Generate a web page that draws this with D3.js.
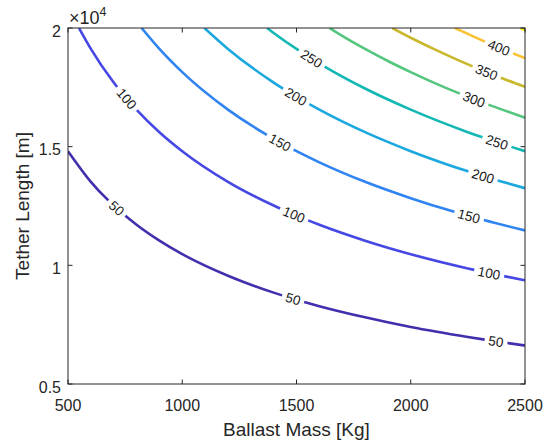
<!DOCTYPE html>
<html><head><meta charset="utf-8">
<script src="https://cdn.jsdelivr.net/npm/d3@7"></script>
<style>body{margin:0;background:#fff} svg{display:block}</style>
</head><body>
<script>
// ---- data (mass in kg, tether length in units of 1e4 m) ----
const levels = [50, 100, 150, 200, 250, 300, 350, 400, 450];
const lineColors = ["#4030ae", "#4648e4", "#2f84f2", "#1ba8df", "#13b8b4", "#55c67e", "#c9b82c", "#fbc234", "#f6f01c"];
const contour50  = [[500,1.481],[600,1.352],[700,1.252],[800,1.171],[900,1.104],[1000,1.047],[1200,0.956],[1400,0.885],[1600,0.828],[1800,0.781],[2000,0.740],[2250,0.698],[2500,0.662]];
const contour100 = [[548,2.000],[600,1.912],[700,1.770],[800,1.656],[900,1.561],[1000,1.481],[1200,1.352],[1400,1.252],[1600,1.171],[1800,1.104],[2000,1.047],[2250,0.987],[2500,0.937]];
const contour150 = [[822,2.000],[900,1.912],[1000,1.814],[1200,1.656],[1400,1.533],[1600,1.434],[1800,1.352],[2000,1.283],[2250,1.209],[2500,1.147]];
const contour200 = [[1097,2.000],[1200,1.912],[1400,1.770],[1600,1.656],[1800,1.561],[2000,1.481],[2250,1.396],[2500,1.325]];
const contour250 = [[1371,2.000],[1400,1.979],[1600,1.851],[1800,1.745],[2000,1.656],[2250,1.561],[2500,1.481]];
const contour300 = [[1645,2.000],[1700,1.967],[1800,1.912],[1900,1.861],[2000,1.814],[2100,1.770],[2250,1.710],[2400,1.656],[2500,1.622]];
const contour350 = [[1919,2.000],[2000,1.959],[2100,1.912],[2200,1.868],[2350,1.807],[2500,1.752]];
const contour400 = [[2193,2.000],[2250,1.975],[2300,1.953],[2400,1.912],[2500,1.873]];
const contour450 = [[2480,2.000],[2500,1.990]];
const contourLines = [contour50, contour100, contour150, contour200, contour250, contour300, contour350, contour400, contour450];
// mass positions of the inline labels of each level
const labelMasses = [[713,1485,2373],[757,1489,2343],[1428,2255],[1498,2316],[1566,2377],[2277],[2332],[2386],[]];
const xTicks = [500, 1000, 1500, 2000, 2500];
const yTicks = [0.5, 1, 1.5, 2];
const yTickLabels = ["0.5", "1", "1.5", "2"];

// ---- layout ----
const W = 556, H = 446;
const L0 = 68, R0 = 525, T0 = 28, B0 = 384;
const axisColor = "#262626";
const font = "'Liberation Sans', Arial, Helvetica, sans-serif";

const x = d3.scaleLinear().domain([500, 2500]).range([L0, R0]);
const y = d3.scaleLinear().domain([0.5, 2]).range([B0, T0]);

const svg = d3.select("body").append("svg").attr("width", W).attr("height", H)
  .style("font-family", font);

svg.append("rect").attr("x", L0).attr("y", T0).attr("width", R0 - L0).attr("height", B0 - T0).attr("fill", "#fff");
svg.append("clipPath").attr("id", "clip").append("rect")
  .attr("x", L0).attr("y", T0).attr("width", R0 - L0).attr("height", B0 - T0);

const gLines = svg.append("g").attr("clip-path", "url(#clip)");
const gLabels = svg.append("g");

const line = d3.line().x(d => x(d[0])).y(d => y(d[1])).curve(d3.curveMonotoneX);

levels.forEach((lv, i) => {
  const path = gLines.append("path").datum(contourLines[i])
    .attr("d", line).attr("fill", "none")
    .attr("stroke", lineColors[i]).attr("stroke-width", 2.6)
    .attr("stroke-linejoin", "round");
  const node = path.node();
  const total = node.getTotalLength();
  const gaps = [];
  labelMasses[i].forEach(m => {
    const px = x(m);
    let lo = 0, hi = total;
    for (let k = 0; k < 40; k++) {
      const mid = (lo + hi) / 2;
      if (node.getPointAtLength(mid).x < px) lo = mid; else hi = mid;
    }
    const s = (lo + hi) / 2;
    const p = node.getPointAtLength(s);
    const p1 = node.getPointAtLength(Math.max(0, s - 3));
    const p2 = node.getPointAtLength(Math.min(total, s + 3));
    let ang = Math.atan2(p2.y - p1.y, p2.x - p1.x) * 180 / Math.PI;
    if (ang > 90) ang -= 180;
    if (ang < -90) ang += 180;
    const t = gLabels.append("text")
      .attr("transform", `translate(${p.x},${p.y}) rotate(${ang})`)
      .attr("text-anchor", "middle").attr("dy", "0.36em")
      .attr("font-size", 13.5).attr("fill", "#1a1a1a")
      .text(lv);
    const w = t.node().getComputedTextLength();
    gaps.push([s - w / 2 - 4, s + w / 2 + 4]);
  });
  if (gaps.length) {
    const arr = [];
    let pos = 0;
    gaps.sort((a, b) => a[0] - b[0]).forEach(g => { arr.push(Math.max(0, g[0] - pos), g[1] - g[0]); pos = g[1]; });
    arr.push(Math.max(0, total - pos) + 50, 0);
    path.attr("stroke-dasharray", arr.join(","));
  }
});

// ---- axes box and ticks ----
const gAx = svg.append("g").attr("stroke", axisColor).attr("stroke-width", 1).attr("fill", "none");
gAx.append("rect").attr("x", L0).attr("y", T0).attr("width", R0 - L0).attr("height", B0 - T0);
const tl = 4.5;
xTicks.forEach(v => {
  gAx.append("line").attr("x1", x(v)).attr("x2", x(v)).attr("y1", B0).attr("y2", B0 - tl);
  gAx.append("line").attr("x1", x(v)).attr("x2", x(v)).attr("y1", T0).attr("y2", T0 + tl);
});
yTicks.forEach(v => {
  gAx.append("line").attr("y1", y(v)).attr("y2", y(v)).attr("x1", L0).attr("x2", L0 + tl);
  gAx.append("line").attr("y1", y(v)).attr("y2", y(v)).attr("x1", R0).attr("x2", R0 - tl);
});

const gT = svg.append("g").attr("fill", axisColor).attr("font-size", 16);
xTicks.forEach(v => {
  gT.append("text").attr("x", x(v)).attr("y", 411).attr("text-anchor", "middle").text(v);
});
yTicks.forEach((v, i) => {
  gT.append("text").attr("x", 61).attr("y", y(v) + 8.5).attr("text-anchor", "end").text(yTickLabels[i]);
});

// exponent label
const ex = svg.append("text").attr("x", 69).attr("y", 24).attr("fill", axisColor).attr("font-size", 18);
ex.append("tspan").text("\u00d710");
ex.append("tspan").attr("font-size", 12.5).attr("dy", -8).text("4");

// axis titles
svg.append("text").attr("x", (L0 + R0) / 2).attr("y", 436).attr("text-anchor", "middle")
  .attr("fill", axisColor).attr("font-size", 19).text("Ballast Mass [Kg]");
svg.append("text").attr("transform", `translate(29,${(T0 + B0) / 2}) rotate(-90)`)
  .attr("text-anchor", "middle").attr("fill", axisColor).attr("font-size", 19).text("Tether Length [m]");
</script>
</body></html>
